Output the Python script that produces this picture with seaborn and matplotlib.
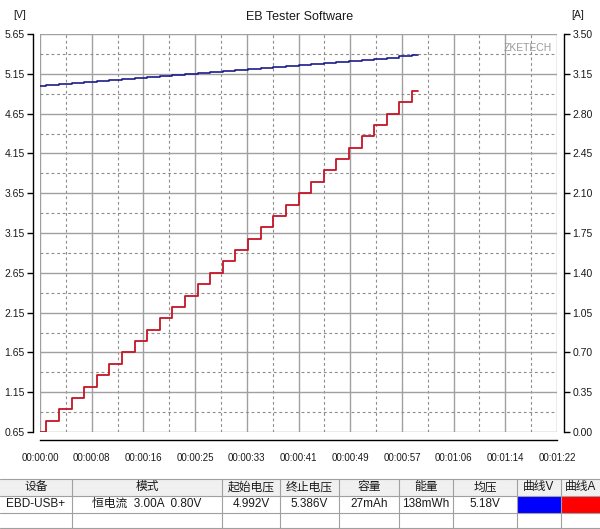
import matplotlib
matplotlib.use("Agg")
import matplotlib.pyplot as plt
import matplotlib.ticker as mticker
from matplotlib.patches import Rectangle
import seaborn as sns
import pandas as pd

# 数据
step_t = [0, 1, 3, 5, 7, 9, 11, 13, 15, 17, 19, 21, 23, 25, 27, 29, 31,
          33, 35, 37, 39, 41, 43, 45, 47, 49, 51, 53, 55, 57, 59, 60]
current_a = [0.00, 0.10, 0.20, 0.30, 0.40, 0.50, 0.60, 0.70, 0.80, 0.90, 1.00,
             1.10, 1.20, 1.30, 1.40, 1.50, 1.60, 1.70, 1.80, 1.90, 2.00, 2.10,
             2.20, 2.30, 2.40, 2.50, 2.60, 2.70, 2.80, 2.90, 3.00, 3.00]
voltage_v = [4.992, 5.006, 5.018, 5.030, 5.043, 5.055, 5.068, 5.082, 5.095, 5.108,
             5.120, 5.133, 5.146, 5.158, 5.171, 5.184, 5.197, 5.210, 5.223, 5.236,
             5.249, 5.262, 5.275, 5.288, 5.301, 5.314, 5.327, 5.340, 5.353, 5.368,
             5.384, 5.386]

x_ticks = [0, 8.2, 16.4, 24.6, 32.8, 41.0, 49.2, 57.4, 65.6, 73.8, 82.0]
x_minor = [4.1, 12.3, 20.5, 28.7, 36.9, 45.1, 53.3, 61.5, 69.7, 77.9]
v_ticks = [0.65, 1.15, 1.65, 2.15, 2.65, 3.15, 3.65, 4.15, 4.65, 5.15, 5.65]
v_minor = [0.90, 1.40, 1.90, 2.40, 2.90, 3.40, 3.90, 4.40, 4.90, 5.40]
a_ticks = [0.00, 0.35, 0.70, 1.05, 1.40, 1.75, 2.10, 2.45, 2.80, 3.15, 3.50]

table_headers = ['设备', '模式', '起始电压', '终止电压', '容量', '能量', '均压', '曲线V', '曲线A']
table_values = ['EBD-USB+', '恒电流  3.00A  0.80V', '4.992V', '5.386V', '27mAh',
                '138mWh', '5.18V', '', '']
col_edges = [0, 72, 222, 280, 339, 399, 453, 517, 561, 600]
swatch_colors = {7: '#0000ff', 8: '#ff0000'}

df = pd.DataFrame({'t': step_t, 'V': voltage_v, 'A': current_a})

sns.set_style("white")
plt.rcParams['font.family'] = ['Liberation Sans', 'Noto Sans CJK SC', 'DejaVu Sans']

W, H = 600, 529
fig = plt.figure(figsize=(6.0, 5.29), dpi=100)
fig.patch.set_facecolor('white')

# 主图区域 (像素坐标 -> 比例)
left, right, top, bottom = 40, 557, 34, 432
ax = fig.add_axes([left / W, 1 - bottom / H, (right - left) / W, (bottom - top) / H])
ax2 = ax.twinx()

sns.lineplot(data=df, x='t', y='V', ax=ax, color='#1c1c8a', linewidth=1.2,
             drawstyle='steps-post', estimator=None)
sns.lineplot(data=df, x='t', y='A', ax=ax2, color='#c41526', linewidth=1.3,
             drawstyle='steps-post', estimator=None)

ax.set_xlim(0, 82)
ax.set_ylim(0.65, 5.65)
ax2.set_ylim(0, 3.5)

ax.set_xticks(x_ticks)
ax.set_xticklabels(['00:%02d:%02d' % (round(t) // 60, round(t) % 60) for t in x_ticks])
ax.set_yticks(v_ticks)
ax.set_yticklabels(['%.2f' % v for v in v_ticks])
ax2.set_yticks(a_ticks)
ax2.set_yticklabels(['%.2f' % a for a in a_ticks])
ax.xaxis.set_minor_locator(mticker.FixedLocator(x_minor))
ax.yaxis.set_minor_locator(mticker.FixedLocator(v_minor))
ax2.yaxis.set_minor_locator(mticker.NullLocator())

ax.grid(True, which='major', color='#a0a0a0', linewidth=1.0, linestyle='-')
ax.grid(True, which='minor', color='#8c8c8c', linewidth=0.8, linestyle=(0, (2.5, 2.5)))
ax2.grid(False)
ax.set_axisbelow(True)
ax.set_xlabel('')
ax.set_ylabel('')
ax2.set_ylabel('')

for a in (ax, ax2):
    for s in a.spines.values():
        s.set_visible(False)
ax.spines['left'].set_visible(True)
ax.spines['left'].set_position(('outward', 5))
ax.spines['bottom'].set_visible(True)
ax.spines['bottom'].set_position(('outward', 6))
ax2.spines['right'].set_visible(True)
ax2.spines['right'].set_position(('outward', 5))
for s in (ax.spines['left'], ax.spines['bottom'], ax2.spines['right']):
    s.set_color('#000000')
    s.set_linewidth(1.0)

ax.tick_params(axis='both', which='major', direction='out', length=4, width=1,
               color='#000000', labelsize=7.5, labelcolor='#1a1a1a', pad=2)
ax.tick_params(axis='both', which='minor', length=0)
ax.tick_params(axis='x', labelsize=7, pad=5)
ax2.tick_params(axis='y', direction='out', length=4, width=1, color='#000000',
                labelsize=7.5, labelcolor='#1a1a1a', pad=2)

# 标题与单位
fig.text(0.5, 1 - 17 / H, 'EB Tester Software', ha='center', va='center', fontsize=9, color='#1a1a1a')
fig.text(20 / W, 1 - 15 / H, '[V]', ha='center', va='center', fontsize=7.5, color='#1a1a1a')
fig.text(578 / W, 1 - 15 / H, '[A]', ha='center', va='center', fontsize=7.5, color='#1a1a1a')
ax.text(0.99, 0.965, 'ZKETECH', transform=ax.transAxes, ha='right', va='center',
        fontsize=7.5, color='#9a9a9a')

# 底部表格
tab = fig.add_axes([0, 0, 1, 1], facecolor='none')
tab.set_xlim(0, W)
tab.set_ylim(H, 0)
tab.axis('off')
row_edges = [479, 495.5, 513, 528]
tab.add_patch(Rectangle((0, row_edges[0]), W, row_edges[1] - row_edges[0],
                        facecolor='#f0f0f0', edgecolor='none'))
for i, c in swatch_colors.items():
    tab.add_patch(Rectangle((col_edges[i], row_edges[1]), col_edges[i + 1] - col_edges[i],
                            row_edges[2] - row_edges[1], facecolor=c, edgecolor='none'))
for y in row_edges:
    tab.plot([0, W], [y, y], color='#a0a0a0', linewidth=0.8)
for x in col_edges[1:-1]:
    tab.plot([x, x], [row_edges[0], row_edges[-1]], color='#a0a0a0', linewidth=0.8)
for i in range(len(table_headers)):
    cx = (col_edges[i] + col_edges[i + 1]) / 2
    tab.text(cx, (row_edges[0] + row_edges[1]) / 2, table_headers[i], ha='center',
             va='center', fontsize=8.5, color='#1a1a1a')
    tab.text(cx, (row_edges[1] + row_edges[2]) / 2, table_values[i], ha='center',
             va='center', fontsize=8.5, color='#1a1a1a')

fig.savefig('out.png', dpi=100)
